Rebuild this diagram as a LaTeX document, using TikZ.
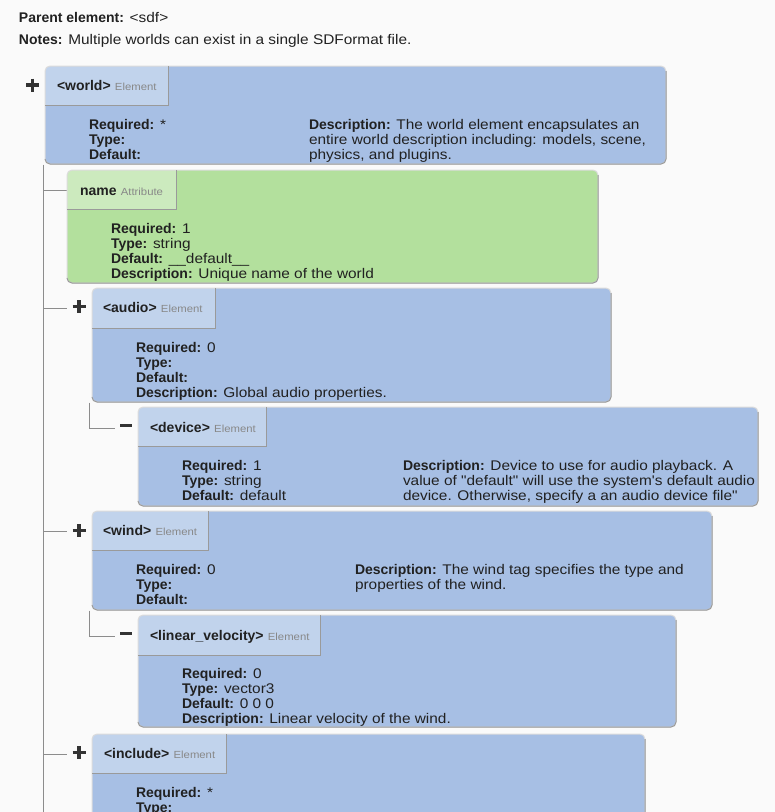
\documentclass[tikz,border=0pt]{standalone}
\usepackage{fontspec}
\newfontfamily\mainf{Liberation Sans}[UprightFeatures={FakeStretch=1.1}]
\definecolor{bgc}{HTML}{FAFAFA}
\definecolor{elfill}{HTML}{A7BFE4}
\definecolor{eltab}{HTML}{C1D3EC}
\definecolor{atfill}{HTML}{B3E09D}
\definecolor{attab}{HTML}{CCEABE}
\definecolor{edgedark}{HTML}{9A9A9A}
\definecolor{edgelight}{HTML}{DCDCDC}
\definecolor{txt}{HTML}{212121}
\definecolor{kind}{HTML}{888888}
\definecolor{treec}{HTML}{8C8C8C}
\definecolor{signc}{HTML}{333333}
\tikzset{
  lbl/.style={anchor=base west, inner sep=0pt, outer sep=0pt, text=txt, font=\mainf\fontsize{14}{15}\selectfont},
  tree/.style={draw=treec, line width=1pt},
  sign/.style={draw=signc, line width=3.2pt},
}
\newcommand\kindtxt[1]{{\color{kind}\fontsize{10.3}{12}\selectfont #1}}
\newcommand\sdfbox[8]{%
  \begin{scope}
    \clip[rounded corners=5] (#1,#2) rectangle (#3,#4);
    \fill[#7] (#1,#2) rectangle (#3,#4);
    \fill[#8] (#1,#2) rectangle (#5,#6);
  \end{scope}
  \draw[edgelight, line width=1pt, rounded corners=5] (#1,#2) rectangle (#3,#4);
  \draw[edgedark, line width=1pt, rounded corners=5] (#3,#2+5) -- (#3,#4) -- (#1,#4) -- (#1,#4-5);
  \draw[edgedark, line width=1pt] (#5,#2) -- (#5,#6) -- (#1,#6);
}
\begin{document}
\begin{tikzpicture}[x=1pt,y=-1pt]
\useasboundingbox[fill=bgc] (0,0) rectangle (775,812);

% header
\node[lbl] (parent) at (19,22) {\textbf{Parent element:} <sdf>};
\node[lbl] (notes) at (19,44.5) {\textbf{Notes:} Multiple worlds can exist in a single SDFormat file.};

% tree lines
\coordinate (t0) at (43,164.5);
\coordinate (tEnd) at (43,812);
\draw[tree] (t0) -- (tEnd);
\coordinate (bName0) at (43,190);   \coordinate (bName1) at (67,190);
\coordinate (bAud0) at (43,308.5);  \coordinate (bAud1) at (67,308.5);
\coordinate (bWind0) at (43,531);   \coordinate (bWind1) at (67,531);
\coordinate (bInc0) at (43,754);    \coordinate (bInc1) at (67,754);
\draw[tree] (bName0) -- (bName1);
\draw[tree] (bAud0) -- (bAud1);
\draw[tree] (bWind0) -- (bWind1);
\draw[tree] (bInc0) -- (bInc1);
\coordinate (sDev0) at (89.5,402.5); \coordinate (sDev1) at (89.5,428); \coordinate (sDev2) at (115,428);
\draw[tree] (sDev0) -- (sDev1) -- (sDev2);
\coordinate (sLin0) at (89.5,610.5); \coordinate (sLin1) at (89.5,636); \coordinate (sLin2) at (115,636);
\draw[tree] (sLin0) -- (sLin1) -- (sLin2);

% expand / collapse signs
\draw[sign] (26,85) -- (39,85) (32.5,78.5) -- (32.5,91.5);
\draw[sign] (72.5,306.5) -- (85.5,306.5) (79,300) -- (79,313);
\draw[sign] (72.5,530.5) -- (85.5,530.5) (79,524) -- (79,537);
\draw[sign] (72.5,752.5) -- (85.5,752.5) (79,746) -- (79,759);
\draw[sign] (120,425.5) -- (132,425.5);
\draw[sign] (120,633.5) -- (132,633.5);

% world
\sdfbox{45}{66}{666}{164}{168}{105}{elfill}{eltab}
\node[lbl] (wT) at (57,90) {\textbf{<world>} \kindtxt{Element}};
\node[lbl] (wR) at (89,129) {\textbf{Required:} *};
\node[lbl] (wY) at (89,144) {\textbf{Type:}};
\node[lbl] (wD) at (89,159) {\textbf{Default:}};
\node[lbl] (wX1) at (309,129) {\textbf{Description:} The world element encapsulates an};
\node[lbl] (wX2) at (309,144) {entire world description including: models, scene,};
\node[lbl] (wX3) at (309,159) {physics, and plugins.};

% name
\sdfbox{67}{170}{598}{283}{176}{209}{atfill}{attab}
\node[lbl] (nT) at (80,195) {\textbf{name} \kindtxt{Attribute}};
\node[lbl] (nR) at (111,233) {\textbf{Required:} 1};
\node[lbl] (nY) at (111,248) {\textbf{Type:} string};
\node[lbl] (nD) at (111,263) {\textbf{Default:} \_\_default\_\_};
\node[lbl] (nX) at (111,278) {\textbf{Description:} Unique name of the world};

% audio
\sdfbox{92}{288}{611}{402}{215}{328}{elfill}{eltab}
\node[lbl] (aT) at (103,312) {\textbf{<audio>} \kindtxt{Element}};
\node[lbl] (aR) at (136,352) {\textbf{Required:} 0};
\node[lbl] (aY) at (136,367) {\textbf{Type:}};
\node[lbl] (aD) at (136,382) {\textbf{Default:}};
\node[lbl] (aX) at (136,397) {\textbf{Description:} Global audio properties.};

% device
\sdfbox{138}{407}{758}{506}{266}{446}{elfill}{eltab}
\node[lbl] (dT) at (150,432) {\textbf{<device>} \kindtxt{Element}};
\node[lbl] (dR) at (182,470) {\textbf{Required:} 1};
\node[lbl] (dY) at (182,485) {\textbf{Type:} string};
\node[lbl] (dD) at (182,500) {\textbf{Default:} default};
\node[lbl] (dX1) at (403,470) {\textbf{Description:} Device to use for audio playback. A};
\node[lbl] (dX2) at (403,485) {value of "default" will use the system's default audio};
\node[lbl] (dX3) at (403,500) {device. Otherwise, specify a an audio device file"};

% wind
\sdfbox{92}{511}{712}{610}{208}{550}{elfill}{eltab}
\node[lbl] (iT) at (103,535) {\textbf{<wind>} \kindtxt{Element}};
\node[lbl] (iR) at (136,574) {\textbf{Required:} 0};
\node[lbl] (iY) at (136,589) {\textbf{Type:}};
\node[lbl] (iD) at (136,604) {\textbf{Default:}};
\node[lbl] (iX1) at (355,574) {\textbf{Description:} The wind tag specifies the type and};
\node[lbl] (iX2) at (355,589) {properties of the wind.};

% linear_velocity
\sdfbox{138}{615}{676}{727}{320}{655}{elfill}{eltab}
\node[lbl] (lT) at (150,640) {\textbf{<linear\_velocity>} \kindtxt{Element}};
\node[lbl] (lR) at (182,678) {\textbf{Required:} 0};
\node[lbl] (lY) at (182,693) {\textbf{Type:} vector3};
\node[lbl] (lD) at (182,708) {\textbf{Default:} 0 0 0};
\node[lbl] (lX) at (182,723) {\textbf{Description:} Linear velocity of the wind.};

% include
\sdfbox{92}{734}{645}{840}{226}{773}{elfill}{eltab}
\node[lbl] (cT) at (104,758) {\textbf{<include>} \kindtxt{Element}};
\node[lbl] (cR) at (136,797) {\textbf{Required:} *};
\node[lbl] (cY) at (136,812) {\textbf{Type:}};
\end{tikzpicture}
\end{document}
